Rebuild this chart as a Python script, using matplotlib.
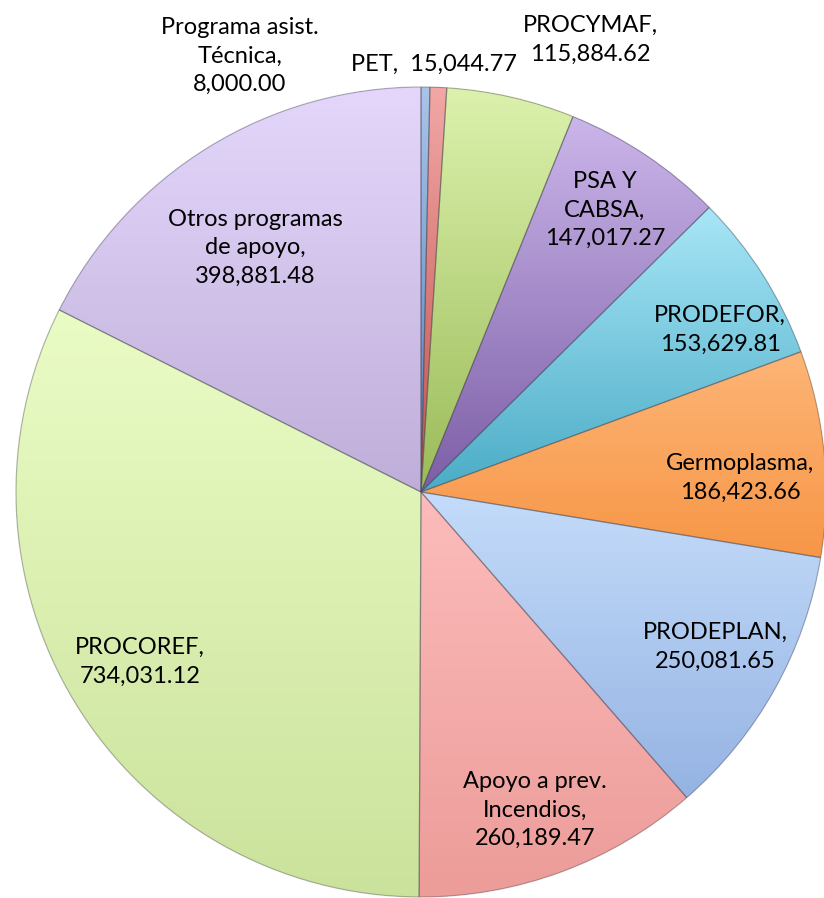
import numpy as np
import matplotlib
matplotlib.use("Agg")
import matplotlib.pyplot as plt
from matplotlib.patches import Wedge
from matplotlib.colors import to_rgba

labels = ["Programa asist.\nTécnica", "PET", "PROCYMAF", "PSA Y\nCABSA", "PRODEFOR",
          "Germoplasma", "PRODEPLAN", "Apoyo a prev.\nIncendios", "PROCOREF",
          "Otros programas\nde apoyo"]
values = [8000.00, 15044.77, 115884.62, 147017.27, 153629.81,
          186423.66, 250081.65, 260189.47, 734031.12, 398881.48]
label_seps = ["\n", "  ", "\n", "\n", "\n", "\n", "\n", "\n", "\n", "\n"]

# gradient colours (top/light, bottom/dark)
light = ["#a9c4e8", "#f2a8a6", "#dcf2ad", "#cbb6ea", "#a8e6f7",
         "#fdb577", "#c4dcfa", "#fcbcbb", "#eafcc5", "#e4d7fb"]
dark = ["#4f81bd", "#c0504d", "#9bbb59", "#7c5ea6", "#4bacc6",
        "#f79646", "#95b3e3", "#ec9c99", "#cbe29c", "#bfaed9"]

# label centres in pixel coordinates (x, y from top)
label_px = [(240, 56), (434, 64), (590, 40), (605, 210), (720, 330),
            (740, 478), (715, 647), (535, 810), (140, 662), (255, 248)]

W, H = 824, 898
fig = plt.figure(figsize=(W / 100, H / 100), dpi=100)
ax = fig.add_axes([0, 0, 1, 1])
ax.set_xlim(0, W)
ax.set_ylim(0, H)
ax.set_aspect("equal")
ax.axis("off")

cx, cy, R = 421, H - 492, 405
wedges, _ = ax.pie(values, startangle=90, counterclock=False, center=(cx, cy),
                   radius=R, colors=dark, frame=True,
                   wedgeprops=dict(linewidth=0))
ax.set_xlim(0, W)
ax.set_ylim(0, H)
ax.axis("off")

inv = ax.transData.inverted()
for i, w in enumerate(wedges):
    ext = w.get_extents()
    (x0, y0), (x1, y1) = inv.transform([[ext.x0, ext.y0], [ext.x1, ext.y1]])
    c1 = np.array(to_rgba(light[i]))
    c2 = np.array(to_rgba(dark[i]))
    t = np.linspace(0, 1, 256)[:, None]
    grad = (c1[None, :] * (1 - t) + c2[None, :] * t)[:, None, :]
    im = ax.imshow(grad, extent=(x0, x1, y0, y1), origin="upper",
                   aspect="auto", interpolation="bilinear", zorder=2)
    im.set_clip_path(w)
    ax.add_patch(Wedge((cx, cy), R, w.theta1, w.theta2,
                       facecolor="none", edgecolor=(0.25, 0.25, 0.3, 0.35),
                       linewidth=0.9, zorder=3))

ax.set_xlim(0, W)
ax.set_ylim(0, H)
ax.set_aspect("equal")

for i, (lab, v) in enumerate(zip(labels, values)):
    txt = f"{lab},{label_seps[i]}{v:,.2f}"
    x, y = label_px[i]
    ax.text(x, H - y, txt, ha="center", va="center", fontsize=17,
            family=["Lato", "DejaVu Sans"], color="#000000",
            linespacing=1.45, zorder=5)

fig.savefig("out.png", dpi=100)
